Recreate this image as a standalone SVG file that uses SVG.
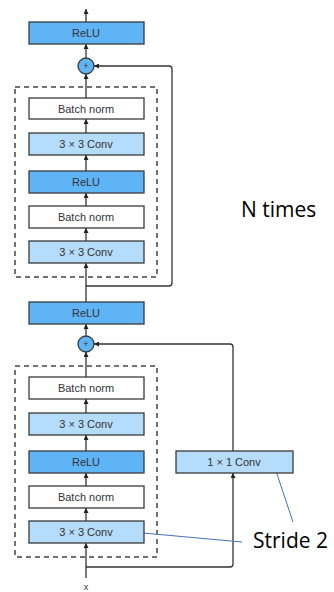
<svg xmlns="http://www.w3.org/2000/svg" width="334" height="592" viewBox="0 0 334 592">
  <style>
    .box { stroke: #3a3a3a; stroke-width: 1.3; }
    .relu { fill: #5fb4f5; }
    .conv { fill: #b5dcfa; }
    .bn { fill: #ffffff; }
    .lbl { font-family: "Liberation Sans", Arial, sans-serif; font-size: 11px; fill: #333333; text-anchor: middle; }
    .dash { fill: none; stroke: #444444; stroke-width: 1.5; stroke-dasharray: 5 4; }
    .wire { fill: none; stroke: #333333; stroke-width: 1.3; }
    .arr { marker-end: url(#head); }
    .note { font-family: "Open Sans", "Liberation Sans", sans-serif; font-size: 21px; fill: #000000; }
    .callout { stroke: #4472c4; stroke-width: 1; fill: none; }
    .add { fill: #5fb4f5; stroke: #3a3a3a; stroke-width: 1.3; }
    .plus { font-family: "Liberation Sans", Arial, sans-serif; font-size: 9px; fill: #333333; text-anchor: middle; }
    .inp { font-family: "Liberation Sans", Arial, sans-serif; font-size: 9px; fill: #333333; text-anchor: middle; }
  </style>
  <defs>
    <marker id="head" viewBox="0 0 10 10" refX="10" refY="5" markerWidth="5" markerHeight="5" orient="auto" markerUnits="userSpaceOnUse">
      <path d="M0,0 L10,5 L0,10 z" fill="#222222"/>
    </marker>
  </defs>

  <!-- dashed residual-block outlines -->
  <rect class="dash" x="15" y="87" width="142" height="190"/>
  <rect class="dash" x="15" y="366" width="142" height="191"/>

  <!-- connectors -->
  <g id="connectors">
    <line class="wire arr" x1="86" y1="22" x2="86" y2="9"/>
    <line class="wire arr" x1="86" y1="58" x2="86" y2="44"/>
    <line class="wire arr" x1="86" y1="98" x2="86" y2="74"/>
    <line class="wire arr" x1="86" y1="133" x2="86" y2="119"/>
    <line class="wire arr" x1="86" y1="171" x2="86" y2="155"/>
    <line class="wire arr" x1="86" y1="206" x2="86" y2="193"/>
    <line class="wire arr" x1="86" y1="241" x2="86" y2="228"/>
    <line class="wire arr" x1="86" y1="302" x2="86" y2="263"/>
    <path class="wire arr" d="M86,286 H169 Q172,286 172,283 V69 Q172,66 169,66 H94"/>
    <line class="wire arr" x1="86" y1="336" x2="86" y2="324"/>
    <line class="wire arr" x1="86" y1="377" x2="86" y2="352"/>
    <line class="wire arr" x1="86" y1="413" x2="86" y2="399"/>
    <line class="wire arr" x1="86" y1="451" x2="86" y2="435"/>
    <line class="wire arr" x1="86" y1="486" x2="86" y2="473"/>
    <line class="wire arr" x1="86" y1="521" x2="86" y2="508"/>
    <line class="wire arr" x1="86" y1="578" x2="86" y2="543"/>
    <path class="wire arr" d="M86,567 H230 Q233,567 233,564 V473"/>
    <path class="wire arr" d="M233,451 V347 Q233,344 230,344 H94"/>
    <line class="callout" x1="143" y1="533" x2="242" y2="542"/>
    <line class="callout" x1="273" y1="462" x2="293" y2="522"/>
  </g>

  <!-- upper block: repeated N times -->
  <g id="relu-out">
    <rect class="box relu" x="29" y="22" width="115" height="22"/>
    <text class="lbl" x="86" y="37">ReLU</text>
  </g>
  <g id="add-1">
    <circle class="add" cx="86" cy="66" r="8"/>
    <text class="plus" x="86" y="69">+</text>
  </g>
  <g id="bn-1b">
    <rect class="box bn" x="29" y="98" width="115" height="21"/>
    <text class="lbl" x="86" y="112.5">Batch norm</text>
  </g>
  <g id="conv-1b">
    <rect class="box conv" x="29" y="133" width="115" height="22"/>
    <text class="lbl" x="86" y="148">3 × 3 Conv</text>
  </g>
  <g id="relu-1">
    <rect class="box relu" x="29" y="171" width="115" height="22"/>
    <text class="lbl" x="86" y="186">ReLU</text>
  </g>
  <g id="bn-1a">
    <rect class="box bn" x="29" y="206" width="115" height="22"/>
    <text class="lbl" x="86" y="221">Batch norm</text>
  </g>
  <g id="conv-1a">
    <rect class="box conv" x="29" y="241" width="115" height="22"/>
    <text class="lbl" x="86" y="256">3 × 3 Conv</text>
  </g>

  <!-- lower block: downsampling -->
  <g id="relu-mid">
    <rect class="box relu" x="29" y="302" width="115" height="22"/>
    <text class="lbl" x="86" y="317">ReLU</text>
  </g>
  <g id="add-2">
    <circle class="add" cx="86" cy="344" r="8"/>
    <text class="plus" x="86" y="347">+</text>
  </g>
  <g id="bn-2b">
    <rect class="box bn" x="29" y="377" width="115" height="22"/>
    <text class="lbl" x="86" y="392">Batch norm</text>
  </g>
  <g id="conv-2b">
    <rect class="box conv" x="29" y="413" width="115" height="22"/>
    <text class="lbl" x="86" y="428">3 × 3 Conv</text>
  </g>
  <g id="relu-2">
    <rect class="box relu" x="29" y="451" width="115" height="22"/>
    <text class="lbl" x="86" y="466">ReLU</text>
  </g>
  <g id="bn-2a">
    <rect class="box bn" x="29" y="486" width="115" height="22"/>
    <text class="lbl" x="86" y="501">Batch norm</text>
  </g>
  <g id="conv-2a">
    <rect class="box conv" x="29" y="521" width="115" height="22"/>
    <text class="lbl" x="86" y="536">3 × 3 Conv</text>
  </g>
  <g id="conv-1x1">
    <rect class="box conv" x="176" y="451" width="117" height="22"/>
    <text class="lbl" x="234" y="466">1 × 1 Conv</text>
  </g>
  <g id="input">
    <text class="inp" x="86" y="590">x</text>
  </g>

  <!-- annotations -->
  <text class="note" x="241" y="217">N times</text>
  <text class="note" x="253" y="548">Stride 2</text>
</svg>
